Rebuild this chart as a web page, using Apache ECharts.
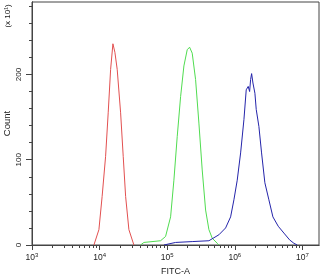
<!DOCTYPE html>
<html>
<head>
<meta charset="utf-8">
<script src="https://cdn.jsdelivr.net/npm/echarts@6/dist/echarts.min.js"></script>
<style>
  html, body { margin: 0; padding: 0; background: #fff; }
  #chart { width: 324px; height: 275px; }
</style>
</head>
<body>
<div id="chart"></div>
<script>
// axis ranges
const X_MIN = 1000;
const X_MAX = 17600000;
const Y_MAX = 285;

// tick positions / labels
const xMajorTicks = [1e3, 1e4, 1e5, 1e6, 1e7];
const xExponents = ['3', '4', '5', '6', '7'];
const xMinorTicks = [
  2e3, 3e3, 4e3, 5e3, 6e3, 7e3, 8e3, 9e3,
  2e4, 3e4, 4e4, 5e4, 6e4, 7e4, 8e4, 9e4,
  2e5, 3e5, 4e5, 5e5, 6e5, 7e5, 8e5, 9e5,
  2e6, 3e6, 4e6, 5e6, 6e6, 7e6, 8e6, 9e6
];
const yMajorTicks = [0, 100, 200];
const yMinorTicks = [20, 40, 60, 80, 120, 140, 160, 180, 220, 240, 260, 280];

// red histogram
const redX = [8240, 9770, 10900, 12270, 13400, 14550, 15740, 16840, 18210, 20460, 22350, 24260, 27120, 32150];
const redY = [0, 18, 57, 104, 155, 206, 236, 226, 206, 155, 104, 57, 18, 0];

// green histogram
const greenX = [40360, 45200, 79800, 94600, 112300, 125600, 140600, 157800, 176600, 197700, 214400,
  234400, 263000, 294400, 329600, 369800, 414000, 463500, 549500, 582000];
const greenY = [0, 3, 5, 10, 33, 76, 127, 174, 210, 229, 232,
  225, 194, 143, 88, 41, 18, 8, 2, 0];

// blue histogram
const blueX = [89400, 133000, 234400, 414000, 582000, 731000, 867000, 970000, 1086000, 1219000,
  1365000, 1476000, 1579000, 1656000, 1713000, 1773000, 1855000, 1984000, 2074000, 2272000,
  2489000, 2785000, 3192000, 3660000, 4389000, 5325000, 6466000, 7486000, 8380000];
const blueY = [0, 3, 4, 5, 12, 20, 33, 53, 76, 108,
  147, 182, 186, 180, 194, 201, 190, 178, 159, 139,
  108, 73, 53, 33, 22, 14, 6, 2, 0];

const FONT = 'Liberation Sans';
const TEXT_COLOR = '#222';
const AXIS_COLOR = '#444';

function pairs(xs, ys) {
  return xs.map((x, i) => [x, ys[i]]);
}

function histSeries(name, xs, ys, color) {
  return {
    name: name,
    type: 'line',
    data: pairs(xs, ys),
    showSymbol: false,
    symbol: 'none',
    lineStyle: { width: 1, color: color },
    silent: true,
    animation: false,
  };
}

const chart = echarts.init(document.getElementById('chart'));

const option = {
  animation: false,
  grid: {
    left: 32,
    top: 2,
    right: 5,
    bottom: 30,
    outerBoundsMode: 'none',
    containLabel: false,
    show: true,
    borderColor: AXIS_COLOR,
    borderWidth: 1,
  },
  xAxis: [
    {
      type: 'log',
      logBase: 10,
      min: X_MIN,
      max: X_MAX,
      position: 'bottom',
      name: 'FITC-A',
      nameLocation: 'middle',
      nameGap: 22,
      nameMoveOverlap: false,
      nameTextStyle: { fontFamily: FONT, fontSize: 9, color: TEXT_COLOR },
      axisLine: { show: true, lineStyle: { color: AXIS_COLOR, width: 1 } },
      axisTick: { show: true, length: 5, customValues: xMajorTicks, lineStyle: { color: AXIS_COLOR } },
      axisLabel: {
        customValues: xMajorTicks,
        margin: 7,
        formatter: (v) => {
          const i = xMajorTicks.indexOf(v);
          const e = i >= 0 ? xExponents[i] : Math.round(Math.log10(v)).toString();
          return '{b|10}{s|' + e + '}';
        },
        rich: {
          b: { fontFamily: FONT, fontSize: 8.5, color: TEXT_COLOR },
          s: { fontFamily: FONT, fontSize: 6, color: TEXT_COLOR, padding: [0, 0, 5, 0] },
        },
      },
      splitLine: { show: false },
    },
    {
      // minor ticks of the log axis (2..9 x 10^n)
      type: 'log',
      logBase: 10,
      min: X_MIN,
      max: X_MAX,
      position: 'bottom',
      offset: 0,
      axisLine: { show: true, lineStyle: { color: AXIS_COLOR, width: 1 } },
      axisTick: { show: true, length: 3, customValues: xMinorTicks, lineStyle: { color: AXIS_COLOR } },
      axisLabel: { show: true, customValues: xMinorTicks, formatter: () => '' },
      splitLine: { show: false },
    },
  ],
  yAxis: [
    {
      type: 'value',
      min: 0,
      max: Y_MAX,
      position: 'left',
      name: 'Count',
      nameLocation: 'middle',
      nameRotate: 90,
      nameGap: 20,
      nameMoveOverlap: false,
      nameTextStyle: { fontFamily: FONT, fontSize: 9.5, color: TEXT_COLOR },
      axisLine: { show: true, lineStyle: { color: AXIS_COLOR, width: 1 } },
      axisTick: { show: true, length: 6, customValues: yMajorTicks, lineStyle: { color: AXIS_COLOR } },
      axisLabel: {
        customValues: yMajorTicks,
        rotate: 90,
        margin: 9,
        fontFamily: FONT,
        fontSize: 8,
        color: TEXT_COLOR,
      },
      splitLine: { show: false },
    },
    {
      // minor ticks every 20
      type: 'value',
      min: 0,
      max: Y_MAX,
      position: 'left',
      offset: 0,
      axisLine: { show: true, lineStyle: { color: AXIS_COLOR, width: 1 } },
      axisTick: { show: true, length: 3, customValues: yMinorTicks, lineStyle: { color: AXIS_COLOR } },
      axisLabel: { show: true, customValues: yMinorTicks, formatter: () => '' },
      splitLine: { show: false },
    },
  ],
  graphic: [
    {
      type: 'text',
      x: 7.5,
      y: 16,
      rotation: Math.PI / 2,
      style: {
        text: '(x 10¹)',
        font: '8px "' + FONT + '"',
        fill: TEXT_COLOR,
        align: 'center',
        verticalAlign: 'middle',
      },
    },
  ],
  series: [
    histSeries('red', redX, redY, 'rgb(226, 80, 80)'),
    histSeries('green', greenX, greenY, 'rgb(80, 220, 80)'),
    histSeries('blue', blueX, blueY, 'rgb(36, 36, 170)'),
  ],
};

chart.setOption(option);
</script>
</body>
</html>
